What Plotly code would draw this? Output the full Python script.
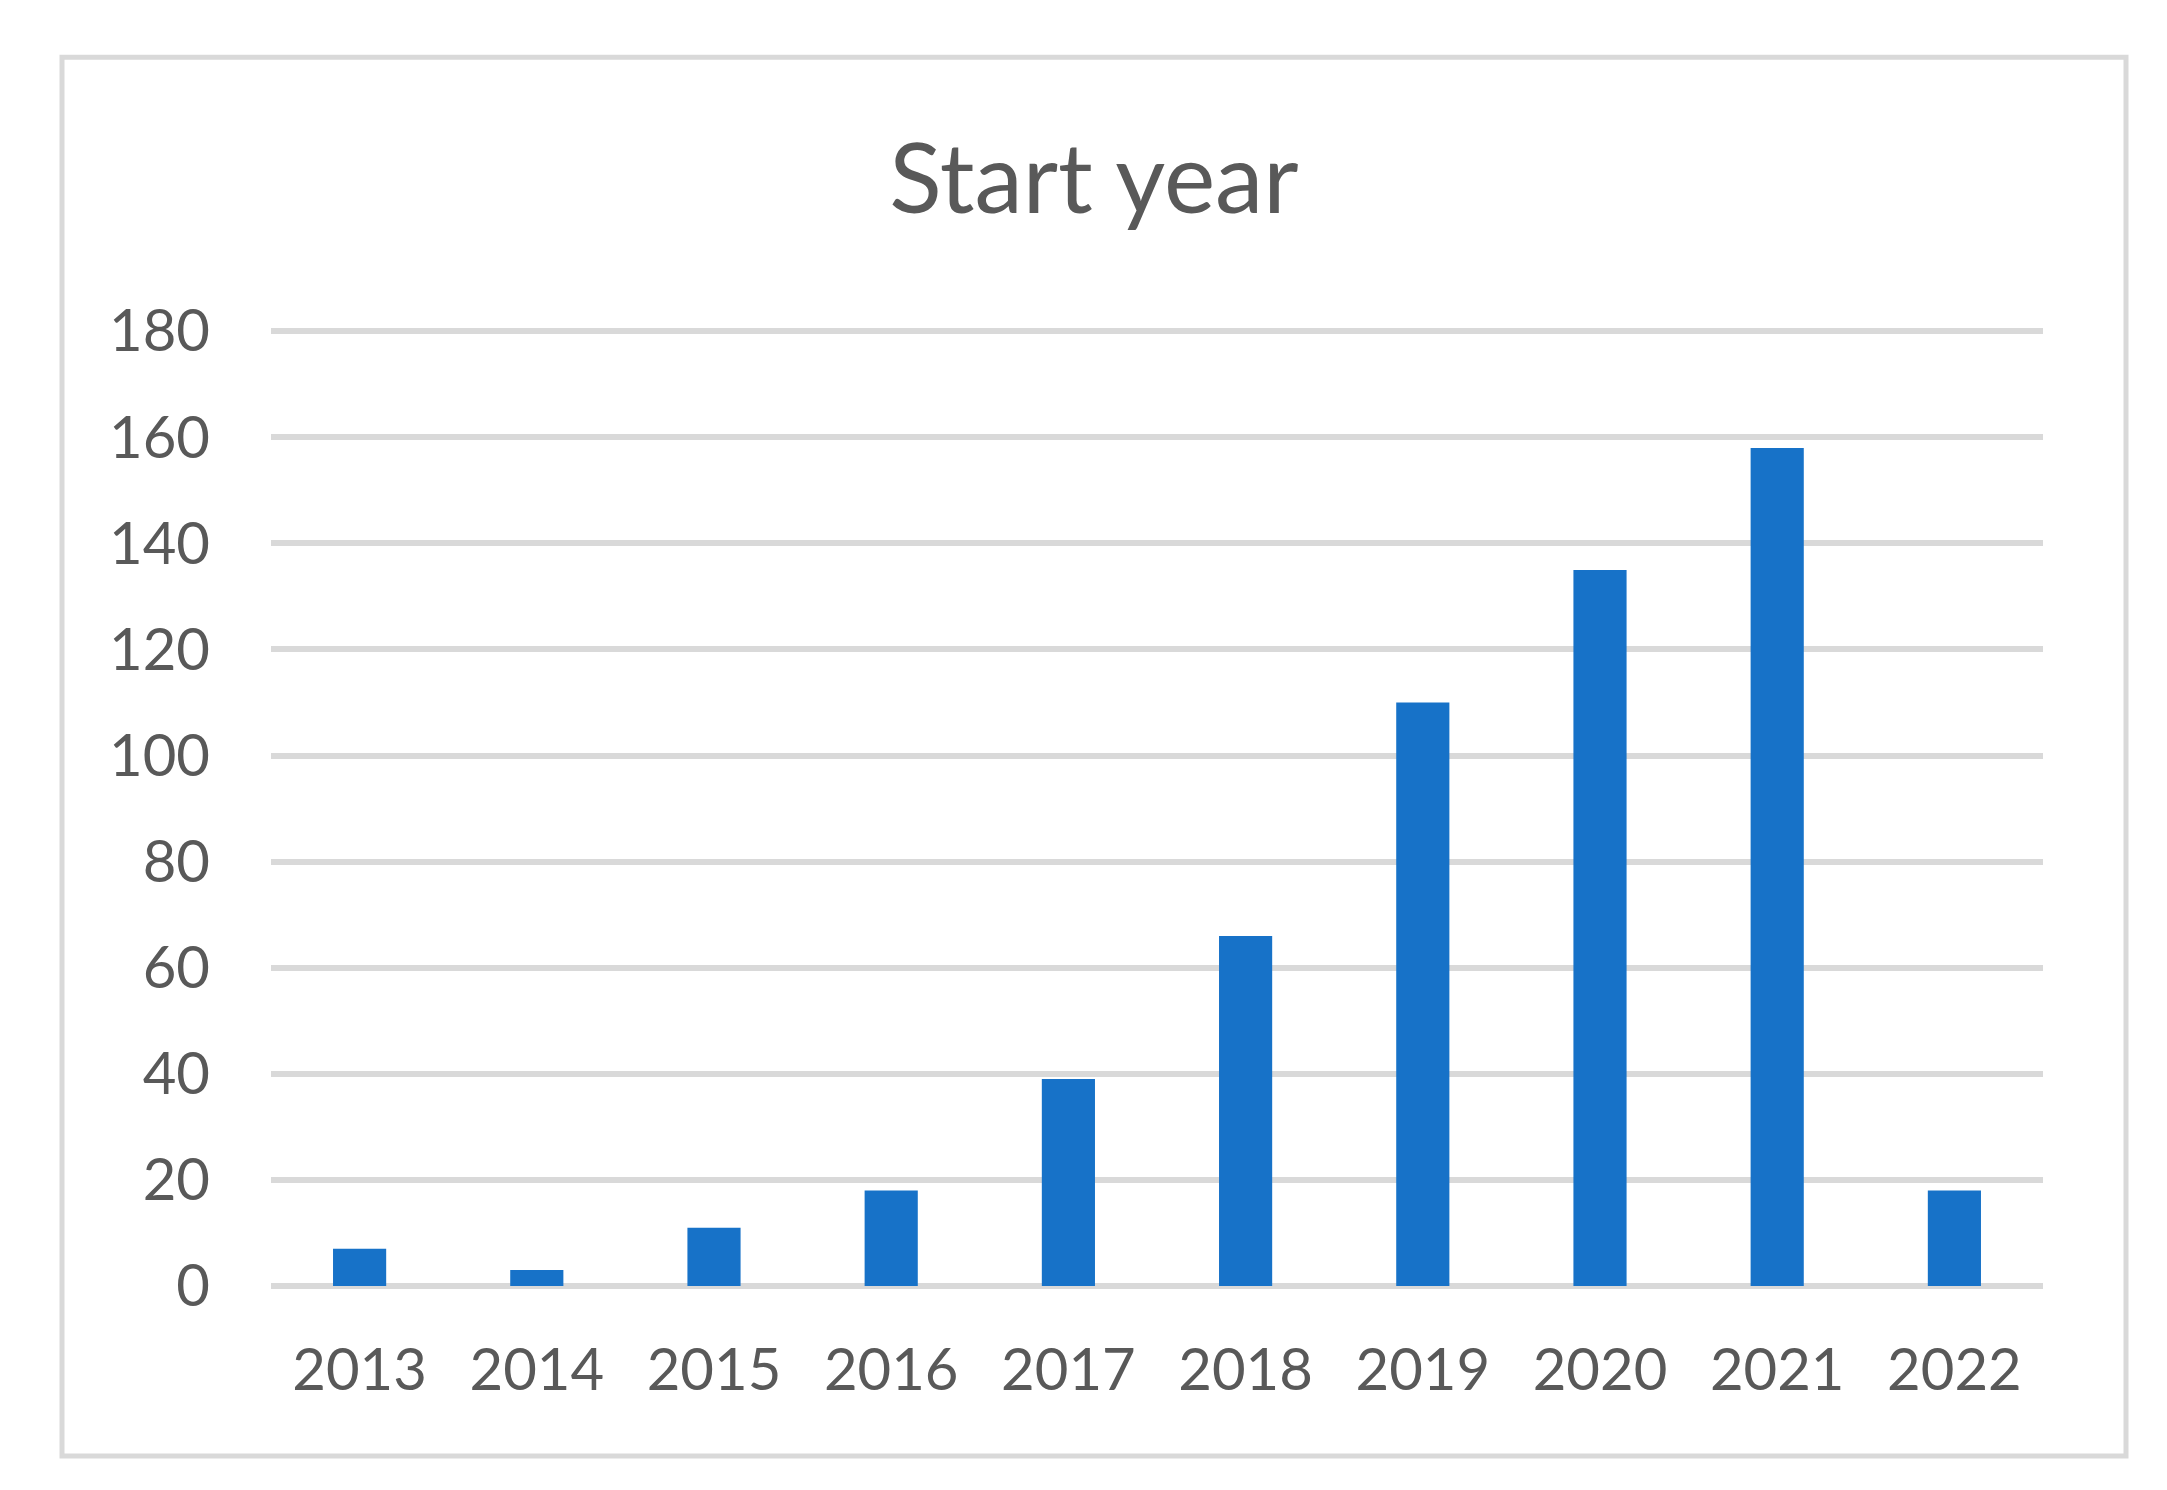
import plotly.graph_objects as go

# start year counts
years = ['2013', '2014', '2015', '2016', '2017', '2018', '2019', '2020', '2021', '2022']
counts = [7, 3, 11, 18, 39, 66, 110, 135, 158, 18]
y_ticks = [0, 20, 40, 60, 80, 100, 120, 140, 160, 180]

# page body adds an 8px offset, so work in shifted pixels
W, H = 2159, 1482
left, right, y0px, y180px = 263, 2035, 1278, 323
ymax = 180.6  # a bit over 180 so the top gridline is drawn
top = y0px - (y0px - y180px) * ymax / 180
pw, ph = right - left, y0px - top

grey = '#595959'
fig = go.Figure(go.Bar(x=years, y=counts, marker=dict(color='#1772C8', line=dict(width=0))))

fig.update_layout(
    width=W, height=H,
    margin=dict(l=left, r=W - right, t=top, b=H - y0px, pad=0),
    paper_bgcolor='white', plot_bgcolor='white',
    font=dict(family='Lato', color=grey, size=58),
    bargap=0.7,
    showlegend=False,
    title=dict(text='Start year', x=1086 / W, xanchor='center',
               y=1 - 171 / H, yanchor='middle', yref='container',
               font=dict(family='Lato', size=97, color=grey)),
)
fig.update_xaxes(showgrid=False, showline=False, ticks='', ticklabelstandoff=45,
                 tickfont=dict(size=58, color=grey))
fig.update_yaxes(range=[0, ymax], tickvals=y_ticks, showgrid=True, gridcolor='#D9D9D9',
                 gridwidth=6, zeroline=True, zerolinecolor='#D9D9D9', zerolinewidth=6,
                 showline=False, ticks='', ticklabelstandoff=60,
                 tickfont=dict(size=58, color=grey))

# outer chart border
fig.add_shape(type='rect', xref='paper', yref='paper',
              x0=(54 - left) / pw, x1=(2118 - left) / pw,
              y0=(y0px - 1448) / ph, y1=(y0px - 49) / ph,
              line=dict(color='#D9D9D9', width=5), layer='below')

fig.write_html('out.html')
